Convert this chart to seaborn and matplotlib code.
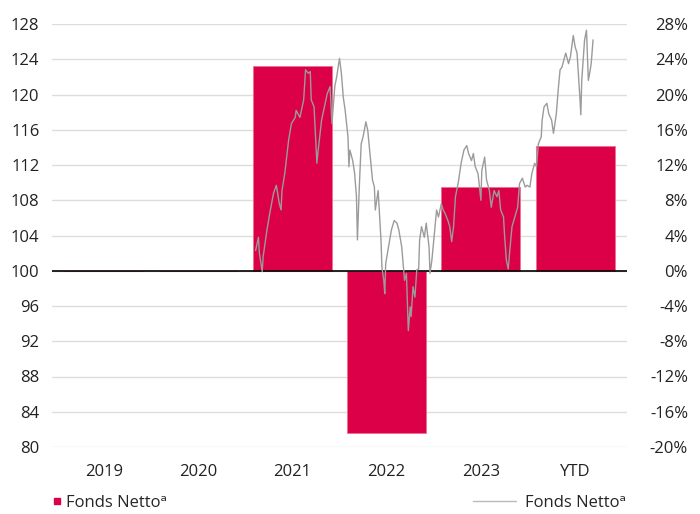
import numpy as np
import pandas as pd
import seaborn as sns
import matplotlib.pyplot as plt
from matplotlib.lines import Line2D

# calendar-year returns (%), bars on the right-hand scale
categories = ["2019", "2020", "2021", "2022", "2023", "YTD"]
returns = [0.0, 0.0, 23.2, -18.4, 9.5, 14.2]

# indexed fund value (start = 100), left-hand scale
# line_t = years elapsed since start of 2021
line_t = [0.00, 0.03, 0.04, 0.07, 0.08, 0.12, 0.15, 0.19, 0.22, 0.25, 0.27, 0.28,
          0.31, 0.35, 0.38, 0.42, 0.43, 0.47, 0.51, 0.53, 0.56, 0.58, 0.59, 0.62,
          0.65, 0.66, 0.70, 0.73, 0.76, 0.79, 0.81, 0.84, 0.86, 0.89, 0.91, 0.93,
          0.95, 0.98, 0.99, 1.00, 1.03, 1.05, 1.07, 1.08, 1.10, 1.12, 1.14, 1.17,
          1.19, 1.21, 1.24, 1.26, 1.27, 1.30, 1.33, 1.34, 1.36, 1.37, 1.38, 1.41,
          1.44, 1.47, 1.50, 1.52, 1.55, 1.57, 1.58, 1.60, 1.62, 1.64, 1.65, 1.67,
          1.69, 1.71, 1.73, 1.74, 1.76, 1.79, 1.81, 1.84, 1.85, 1.87, 1.90, 1.92,
          1.94, 1.97, 1.99, 2.01, 2.04, 2.06, 2.08, 2.10, 2.12, 2.15, 2.18, 2.21,
          2.24, 2.26, 2.29, 2.31, 2.33, 2.36, 2.39, 2.40, 2.43, 2.45, 2.48, 2.50,
          2.53, 2.56, 2.58, 2.60, 2.63, 2.64, 2.66, 2.68, 2.70, 2.72, 2.75, 2.78,
          2.80, 2.83, 2.86, 2.88, 2.91, 2.93, 2.96, 2.98, 3.00, 3.03, 3.04, 3.06,
          3.09, 3.11, 3.14, 3.16, 3.17, 3.19, 3.21, 3.23, 3.25, 3.27, 3.29, 3.32,
          3.34, 3.37, 3.39, 3.41, 3.44, 3.45, 3.46, 3.49, 3.51, 3.53, 3.55, 3.56,
          3.58]
line_val = [102.3, 103.8, 102.0, 99.9, 101.6, 104.6, 106.5, 108.8, 109.7, 107.7, 106.9, 109.1,
            111.1, 114.8, 116.7, 117.4, 118.2, 117.4, 119.4, 122.8, 122.4, 122.6, 119.4, 118.6,
            112.2, 113.3, 117.1, 118.6, 120.1, 120.9, 116.7, 120.9, 122.0, 124.1, 122.4, 119.7,
            118.2, 115.2, 111.8, 113.7, 112.5, 111.1, 108.4, 103.5, 109.5, 114.4, 115.2, 116.9,
            115.9, 113.7, 110.3, 109.5, 106.9, 109.1, 103.5, 100.4, 98.9, 97.4, 100.8, 102.7,
            104.6, 105.7, 105.4, 104.6, 102.7, 100.1, 98.9, 99.7, 93.2, 95.9, 94.8, 98.2,
            97.0, 100.1, 100.2, 103.5, 105.0, 103.8, 105.4, 102.7, 99.7, 101.2, 104.6, 106.9,
            106.1, 107.6, 106.9, 106.5, 105.7, 105.0, 103.3, 105.0, 108.4, 110.0, 112.2, 113.7,
            114.2, 113.3, 112.5, 113.3, 111.8, 111.0, 108.0, 111.4, 112.9, 110.3, 109.1, 107.2,
            109.1, 108.4, 109.1, 106.9, 106.1, 104.2, 101.2, 100.2, 102.7, 105.0, 106.1, 107.2,
            109.9, 110.5, 109.5, 109.7, 109.5, 111.0, 112.2, 111.8, 114.4, 115.2, 117.1, 118.6,
            119.0, 117.8, 117.1, 115.6, 116.3, 117.8, 120.5, 122.8, 123.1, 123.9, 124.7, 123.5,
            124.3, 126.7, 125.4, 124.7, 119.7, 117.7, 121.6, 126.2, 127.3, 121.6, 122.8, 123.5,
            126.2]

RED = "#DB0047"
GREY = "#9B9B9B"

sns.set_style("white")
plt.rcParams['font.family'] = ['Open Sans', 'DejaVu Sans']
plt.rcParams['font.size'] = 12

fig = plt.figure(figsize=(7.0, 5.14), dpi=100)
ax = fig.add_axes([52 / 700, 67 / 514, 575 / 700, 423 / 514])

bars = pd.DataFrame({"Jahr": categories, "Rendite": returns})
sns.barplot(data=bars, x="Jahr", y="Rendite", order=categories, color=RED,
            saturation=1, width=0.84, edgecolor="#F07090", linewidth=0.6, ax=ax)
ax.set_xlabel("")
ax.set_ylabel("")
ax.axhline(0, color="black", linewidth=1.2, zorder=3)
for s in ax.spines.values():
    s.set_visible(False)

# index line on twin axis
ax2 = ax.twinx()
pos_offset = 1.61  # 2021-bar left edge in category units
idx = pd.DataFrame({"pos": np.array(line_t) + pos_offset, "Index": line_val})
sns.lineplot(data=idx, x="pos", y="Index", color=GREY, linewidth=1.0, ax=ax2)
ax2.set_ylim(80, 128)
ax2.set_yticks(np.arange(80, 129, 4))
ax2.yaxis.tick_left()
ax2.tick_params(axis="y", length=0, pad=9, labelsize=12, colors="#222222")
ax2.set_xlabel("")
ax2.set_ylabel("")
for s in ax2.spines.values():
    s.set_visible(False)

# percent scale on the right (after twinx, which moves ticks left)
ax.set_ylim(-20, 28)
ax.set_yticks(np.arange(-20, 29, 4))
ax.set_yticklabels([f"{v}%" for v in range(-20, 29, 4)])
ax.yaxis.tick_right()
ax.tick_params(axis="y", length=0, pad=44, labelsize=12, colors="#222222")
for lab in ax.get_yticklabels():
    lab.set_horizontalalignment("right")
ax.tick_params(axis="x", length=0, pad=12, labelsize=12, colors="#222222")
ax.grid(axis="y", color="#DDDDDD", linewidth=1.0)
ax.set_axisbelow(True)

ax.set_xlim(-0.55, 5.55)
ax2.set_xlim(-0.55, 5.55)

label = "Fonds Netto\u1d43"
h_bar = Line2D([], [], marker="s", markersize=5, color=RED, linestyle="none")
fig.legend([h_bar], [label], loc="center left", bbox_to_anchor=(44 / 700, 1 - 503 / 514),
           frameon=False, fontsize=12, handlelength=0.5, handletextpad=0.3, borderpad=0)
h_line = Line2D([], [], color="#BBBBBB", linewidth=1.0)
fig.legend([h_line], [label], loc="center right", bbox_to_anchor=(634 / 700, 1 - 503 / 514),
           frameon=False, fontsize=12, handlelength=2.6, handletextpad=0.5, borderpad=0)

fig.savefig("out.png", dpi=100)
